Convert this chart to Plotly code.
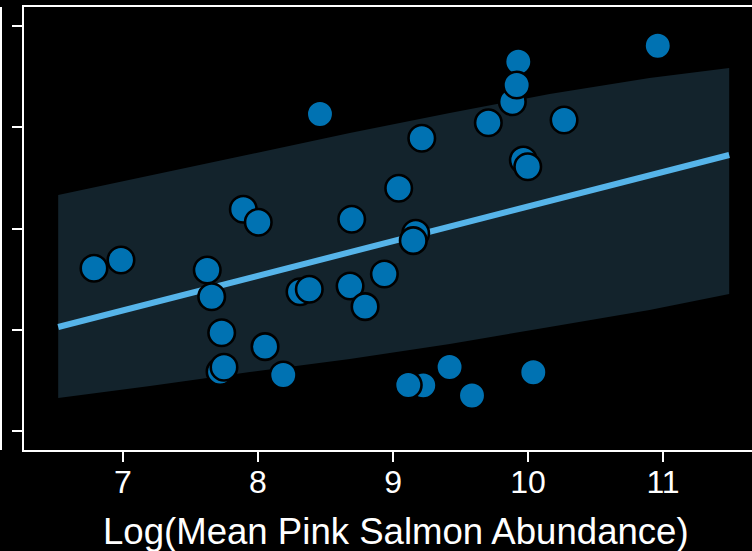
import plotly.graph_objects as go

# Observations (log mean pink salmon abundance, response)
obs_x = [6.785, 6.985, 7.624, 7.657, 7.731, 7.719, 7.748, 7.891, 8.002, 8.052,
         8.187, 8.311, 8.380, 8.459, 8.682, 8.694, 8.793, 8.936, 9.042, 9.168,
         9.150, 9.213, 9.224, 9.113, 9.419, 9.585, 9.706, 9.928, 9.884, 9.916,
         9.965, 9.998, 10.039, 10.267, 10.961]
obs_y = [-0.393, -0.311, -0.410, -0.674, -1.029, -1.414, -1.371, 0.190, 0.061, -1.167,
         -1.447, -0.624, -0.600, 1.131, -0.568, 0.091, -0.772, -0.449, 0.397, -0.047,
         -0.120, 0.891, -1.549, -1.546, -1.368, -1.649, 1.045, 1.647, 1.252, 1.417,
         0.677, 0.610, -1.420, 1.072, 1.805]

# Fitted line
fit_x = [6.52, 11.49]
fit_y = [-0.973, 0.726]

# Prediction band
band_x = [6.52, 7.20, 7.94, 8.68, 9.42, 10.16, 10.90, 11.49]
band_upper = [0.331, 0.522, 0.731, 0.943, 1.141, 1.328, 1.486, 1.585]
band_lower = [-1.674, -1.556, -1.417, -1.289, -1.141, -0.973, -0.805, -0.647]

x_ticks = [7, 8, 9, 10, 11]
y_ticks = [-2, -1, 0, 1, 2]
x_title = "Log(Mean Pink Salmon Abundance)"

fig = go.Figure()
fig.add_trace(go.Scatter(
    x=band_x + band_x[::-1], y=band_upper + band_lower[::-1],
    fill="toself", fillcolor="#13232C", line=dict(width=0),
    mode="lines", hoverinfo="skip", showlegend=False))
fig.add_trace(go.Scatter(
    x=fit_x, y=fit_y, mode="lines",
    line=dict(color="#56B4E9", width=6), showlegend=False))
fig.add_trace(go.Scatter(
    x=obs_x, y=obs_y, mode="markers",
    marker=dict(size=26.5, color="#0072B2", line=dict(color="black", width=2.6)),
    showlegend=False))

fig.update_layout(
    width=752, height=551,
    margin=dict(l=24, r=0, t=7, b=101, autoexpand=False),
    paper_bgcolor="black", plot_bgcolor="black",
    font=dict(family="Liberation Sans, Arial, sans-serif", color="white"),
    xaxis=dict(
        range=[6.2667, 11.659], tickvals=x_ticks, ticktext=[str(t) for t in x_ticks],
        showgrid=False, zeroline=False, showline=True, linecolor="white", linewidth=2,
        mirror=True, ticks="outside", ticklen=10, tickwidth=2, tickcolor="white",
        tickfont=dict(size=32, color="white"), ticklabelstandoff=-7,
    ),
    yaxis=dict(
        range=[-2.1877, 2.1877], tickvals=y_ticks, showticklabels=False,
        showgrid=False, zeroline=False, showline=True, linecolor="white", linewidth=2,
        ticks="outside", ticklen=10, tickwidth=2, tickcolor="white",
    ),
    shapes=[dict(type="line", xref="paper", yref="paper",
                 x0=-23/728, x1=-23/728, y0=0, y1=1,
                 line=dict(color="white", width=2))],
    annotations=[dict(text=x_title, xref="paper", yref="paper",
                      x=(395.5 - 24) / 728, y=-(531 - 450) / 443,
                      xanchor="center", yanchor="middle", showarrow=False,
                      font=dict(size=36.6, color="white"))],
)

fig.write_html(
    "out.html",
    config={"displayModeBar": False},
    post_script="document.body.style.margin='0';document.body.style.background='black';",
)
